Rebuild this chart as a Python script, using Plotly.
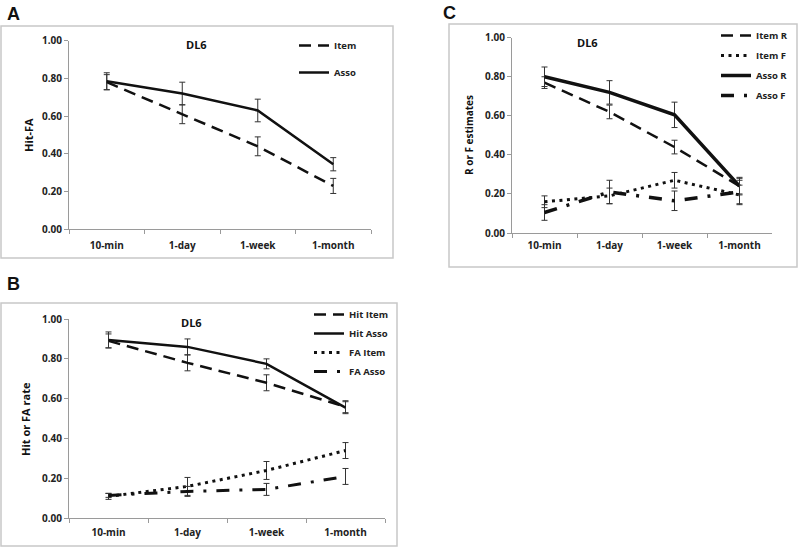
import plotly.graph_objects as go

cats = ["10-min", "1-day", "1-week", "1-month"]

# Panel A
a_item = [0.78, 0.61, 0.44, 0.23]
a_item_err = [0.04, 0.05, 0.05, 0.04]
a_asso = [0.785, 0.72, 0.63, 0.345]
a_asso_err = [0.045, 0.06, 0.06, 0.035]

# Panel B
b_hit_item = [0.89, 0.78, 0.68, 0.56]
b_hit_item_err = [0.035, 0.04, 0.04, 0.03]
b_hit_asso = [0.895, 0.86, 0.775, 0.555]
b_hit_asso_err = [0.04, 0.04, 0.025, 0.03]
b_fa_item = [0.11, 0.16, 0.24, 0.34]
b_fa_item_err = [0.015, 0.045, 0.045, 0.04]
b_fa_asso = [0.115, 0.135, 0.145, 0.21]
b_fa_asso_err = [0.01, 0.025, 0.03, 0.04]

# Panel C
c_item_r = [0.77, 0.62, 0.44, 0.24]
c_item_r_err = [0.03, 0.035, 0.035, 0.04]
c_item_f = [0.16, 0.19, 0.27, 0.195]
c_item_f_err = [0.03, 0.04, 0.04, 0.05]
c_asso_r = [0.80, 0.72, 0.605, 0.24]
c_asso_r_err = [0.05, 0.06, 0.065, 0.045]
c_asso_f = [0.105, 0.21, 0.165, 0.21]
c_asso_f_err = [0.04, 0.06, 0.05, 0.06]

W, H = 800, 547
FONT = "Open Sans"
INK = "#111111"
GRAY = "#9a9a9a"

def px(x):
    return x / W

def py(y):
    return (H - y) / H

fig = go.Figure()

def add(name, y, err, dash, width, xa, ya, legend):
    fig.add_trace(go.Scatter(
        x=cats, y=y, name=name, mode="lines",
        line=dict(color=INK, width=width, dash=dash),
        error_y=dict(type="data", array=err, visible=True, color="#333333",
                     thickness=1, width=3),
        xaxis=xa, yaxis=ya, legend=legend, legendgroup=name + legend,
    ))

DASH = "12px,7px"
DOT = "3px,4.5px"
LDD = "13px,10px,3px,10px"

add("Item", a_item, a_item_err, DASH, 2.5, "x", "y", "legend")
add("Asso", a_asso, a_asso_err, "solid", 2.5, "x", "y", "legend")

add("Hit Item", b_hit_item, b_hit_item_err, DASH, 2.5, "x2", "y2", "legend2")
add("Hit Asso", b_hit_asso, b_hit_asso_err, "solid", 2.5, "x2", "y2", "legend2")
add("FA Item", b_fa_item, b_fa_item_err, DOT, 3, "x2", "y2", "legend2")
add("FA Asso", b_fa_asso, b_fa_asso_err, LDD, 3, "x2", "y2", "legend2")

add("Item R", c_item_r, c_item_r_err, DASH, 2.5, "x3", "y3", "legend3")
add("Item F", c_item_f, c_item_f_err, DOT, 3, "x3", "y3", "legend3")
add("Asso R", c_asso_r, c_asso_r_err, "solid", 3.5, "x3", "y3", "legend3")
add("Asso F", c_asso_f, c_asso_f_err, LDD, 3.5, "x3", "y3", "legend3")

tickfont = dict(family=FONT, size=10, color="#222222", weight="bold")

def xaxis(domain, anchor, standoff):
    return dict(domain=domain, anchor=anchor, type="category", range=[-0.5, 3.5],
                showline=True, linecolor=GRAY, linewidth=1, ticks="outside",
                tickson="boundaries", ticklen=4, tickcolor=GRAY,
                ticklabelstandoff=standoff,
                showgrid=False, zeroline=False, tickfont=tickfont, fixedrange=True)

def yaxis(domain, anchor):
    return dict(domain=domain, anchor=anchor, range=[0, 1.0], dtick=0.2,
                tickformat=".2f", showline=True, linecolor=GRAY, linewidth=1,
                ticks="outside", ticklen=4, tickcolor=GRAY, showgrid=False,
                zeroline=False, tickfont=tickfont, fixedrange=True)

legfont = dict(family=FONT, size=9.5, color="#222222", weight="bold")

def legend(x, y, gap, order):
    return dict(x=px(x), y=py(y), xanchor="left", yanchor="top",
                bgcolor="rgba(0,0,0,0)", font=legfont, tracegroupgap=gap,
                traceorder=order, itemwidth=30)

fig.update_layout(
    width=W, height=H, margin=dict(l=0, r=0, t=0, b=0, autoexpand=False),
    paper_bgcolor="white", plot_bgcolor="white",
    xaxis=xaxis([px(69), px(371)], "y", 7),
    yaxis=yaxis([py(229.3), py(40.7)], "x"),
    xaxis2=xaxis([px(69), px(385)], "y2", 5),
    yaxis2=yaxis([py(518.3), py(319)], "x2"),
    xaxis3=xaxis([px(512), px(772)], "y3", 3),
    yaxis3=yaxis([py(233), py(37.7)], "x3"),
    legend=legend(294, 31, 8, "grouped"),
    legend2=legend(309, 300, 0, "normal"),
    legend3=legend(716, 21, 1, "grouped"),
)

# panel boxes
for (x0, y0, x1, y1) in [(1, 26, 393, 258), (1, 303, 397, 546), (449, 24, 797, 267)]:
    fig.add_shape(type="rect", xref="paper", yref="paper",
                  x0=px(x0), x1=px(x1), y0=py(y1), y1=py(y0),
                  line=dict(color="#c8c8c8", width=1.5), fillcolor="rgba(0,0,0,0)")

def ann(text, x, y, size, angle=0, weight="bold", family=FONT):
    fig.add_annotation(text=text, xref="paper", yref="paper", x=px(x), y=py(y),
                       showarrow=False, textangle=angle, xanchor="center", yanchor="middle",
                       font=dict(family=family, size=size, color="#111111", weight=weight))

# panel letters
ann("A", 13, 14, 18, family="Liberation Sans")
ann("B", 13, 284, 18, family="Liberation Sans")
ann("C", 449, 13, 18, family="Liberation Sans")

# inner titles
ann("DL6", 196, 45, 11)
ann("DL6", 191, 322, 11)
ann("DL6", 587, 42, 11)

# y-axis titles
ann("Hit-FA", 28, 135, 11, angle=-90)
ann("Hit or FA rate", 25, 419, 11, angle=-90)
ann("R or F estimates", 469, 135, 10, angle=-90)

fig.write_html("out.html", config={"displayModeBar": False},
               post_script="document.body.style.margin='0';document.body.style.overflow='hidden';")
